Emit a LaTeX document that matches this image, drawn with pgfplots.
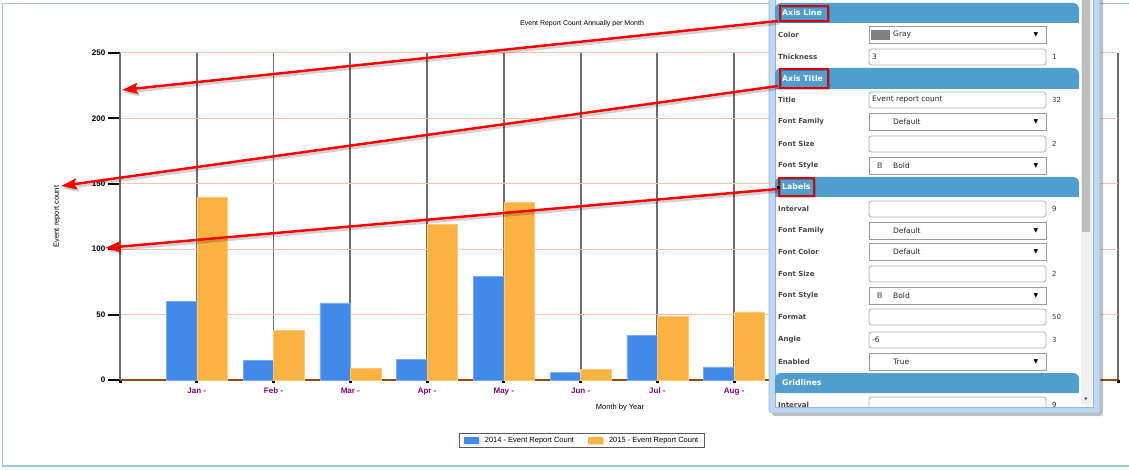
\documentclass[border=0pt]{standalone}
\usepackage{fontspec}
\setmainfont{Liberation Sans}
\newfontfamily\panelfont{DejaVu Sans}
\usepackage{pgfplots}
\pgfplotsset{compat=1.18}
\usetikzlibrary{arrows.meta,shadows}

\definecolor{barblue}{RGB}{65,138,234}
\definecolor{barorange}{RGB}{250,178,64}
\definecolor{gridsalmon}{RGB}{255,192,172}
\definecolor{vgray}{RGB}{108,108,108}
\definecolor{axbrown}{RGB}{150,72,22}
\definecolor{lblpurple}{RGB}{128,0,128}
\definecolor{framecol}{RGB}{160,196,218}
\definecolor{hdr}{RGB}{79,158,206}
\definecolor{panelrim}{RGB}{190,216,244}
\definecolor{panelline}{RGB}{150,182,214}
\definecolor{boxline}{RGB}{170,170,170}
\definecolor{lbltext}{RGB}{70,70,70}

\pgfplotstableread{
x y2014 y2015
1 60 140
2 15 38
3 59 9
4 16 119
5 79 136
6 6 8
7 34 49
8 10 52
}\events

\newcommand{\rowlabel}[2]{\node[anchor=west,inner sep=0pt,text=lbltext,font=\panelfont\bfseries\fontsize{7}{8}\selectfont] at (778,#1) {#2};}
\newcommand{\rightnum}[2]{\node[anchor=west,inner sep=0pt,text=black!80,font=\panelfont\fontsize{7}{8}\selectfont] at (1052,#1) {#2};}
\newcommand{\tbox}[2]{%
  \draw[boxline,line width=0.8pt,fill=white,rounded corners=2.5pt] (869,#1-8) rectangle (1046,#1+8);
  \node[anchor=west,inner sep=0pt,font=\panelfont\fontsize{7.5}{8}\selectfont,text=black!85] at (872,#1) {#2};}
\newcommand{\dbox}[2]{%
  \draw[black!40,line width=0.8pt,fill=white] (869,#1-8.5) rectangle (1046,#1+8.5);
  \node[anchor=west,inner sep=0pt,font=\panelfont\fontsize{7.5}{8}\selectfont,text=black!85] at (893,#1) {#2};
  \node[inner sep=0pt,font=\panelfont\fontsize{6}{6}\selectfont] at (1036,#1) {▼};}
\newcommand{\header}[3]{%
  \fill[hdr,rounded corners=6pt] (775,#1) rectangle (1079,#2);
  \fill[hdr] (775,#1/2+#2/2) rectangle (1079,#2);
  \node[anchor=west,inner sep=0pt,text=white,font=\panelfont\bfseries\fontsize{7.8}{8}\selectfont] at (782,#1/2+#2/2) {#3};}

\begin{document}
\begin{tikzpicture}
\begin{scope}[x=1pt,y=-1pt]
  \fill[white] (0,0) rectangle (1129,470);
  \draw[framecol,line width=1.2pt] (1135,3.5) -- (2.5,3.5) -- (2.5,466) -- (1135,466);
\end{scope}

\begin{axis}[
  at={(120pt,-380pt)}, anchor=south west,
  scale only axis, width=998pt, height=327pt,
  xmin=0, xmax=13, ymin=0, ymax=250,
  axis x line*=bottom, axis y line*=left,
  x axis line style={axbrown,line width=2pt},
  y axis line style={vgray,line width=2pt},
  xtick={0,...,13},
  xticklabels={,Jan -,Feb -,Mar -,Apr -,May -,Jun -,Jul -,Aug -,Sep -,Oct -,Nov -,Dec -,},
  ytick={0,50,...,250},
  tick align=outside,
  xtick style={black,line width=3pt,/pgfplots/major tick length=3pt},
  ytick style={black,line width=2pt,/pgfplots/major tick length=12pt},
  xmajorgrids, ymajorgrids,
  x grid style={vgray,line width=1.8pt},
  y grid style={gridsalmon,line width=1pt},
  /pgf/number format/assume math mode=true,
  xticklabel style={text=lblpurple,font=\bfseries\fontsize{8}{9}\selectfont},
  yticklabel style={font=\bfseries\fontsize{8}{9}\selectfont,xshift=-7pt},
  title={Event Report Count Annually per Month},
  every axis title/.style={font=\fontsize{7}{8}\selectfont,at={(axis description cs:0.463,1.089)},anchor=center},
  xlabel={Month by Year},
  every axis x label/.style={at={(axis description cs:0.501,-0.0856)},anchor=center,font=\fontsize{7.5}{8}\selectfont},
  ylabel={Event report count},
  every axis y label/.style={at={(axis description cs:-0.0631,0.5)},rotate=90,anchor=center,font=\fontsize{7.5}{8}\selectfont},
  ybar=0pt, bar width=30.5pt,
  legend style={at={(axis description cs:0.463,-0.185)},anchor=center,
    draw=black!65,line width=1.2pt,fill=white,
    drop shadow={shadow xshift=1pt,shadow yshift=-1pt,opacity=0.2},
    font=\fontsize{7.5}{8}\selectfont,inner xsep=4pt,inner ysep=1.5pt,
    legend columns=2,/tikz/every even column/.append style={column sep=12pt}},
  legend image code/.code={\fill[#1,draw=none] (0pt,-3.5pt) rectangle (15pt,3.5pt);\path[draw=none,fill=none] (0pt,0pt) -- (19pt,0pt);},
]
\addplot[fill=barblue,draw=barblue!70!white,line width=0.5pt] table[x=x,y=y2014] {\events};
\addplot[fill=barorange,draw=barorange!70!white,line width=0.5pt] table[x=x,y=y2015] {\events};
\legend{2014 - Event Report Count,2015 - Event Report Count}
\end{axis}

\begin{scope}[x=1pt,y=-1pt]
  % settings panel
  \fill[black,opacity=0.25,rounded corners=3pt] (772,-5) rectangle (1103,416);
  \fill[panelrim,rounded corners=3pt] (769,-5) rectangle (1100,413);
  \draw[panelline,line width=0.6pt,rounded corners=3pt] (769,-5) rectangle (1100,413);
  \fill[white] (775,-5) rectangle (1093,407);
  \draw[panelline,line width=0.5pt] (775,-5) rectangle (1093,407);
  \fill[black!6] (1081,-5) rectangle (1092,405);
  \fill[black!25] (1082,-5) rectangle (1090,232);
  \node[inner sep=0pt,font=\panelfont\fontsize{4}{4}\selectfont,text=black!70] at (1086,399) {▼};

  \header{3}{23}{Axis Line}
  \rowlabel{35}{Color}
  \dbox{35}{Gray}
  \fill[black!50] (871,30) rectangle (890,40);
  \rowlabel{57}{Thickness}
  \tbox{57}{3} \rightnum{57}{1}

  \header{68}{89}{Axis Title}
  \rowlabel{100}{Title}
  \tbox{100}{Event report count} \rightnum{100}{32}
  \rowlabel{122}{Font Family}
  \dbox{122}{Default}
  \rowlabel{144}{Font Size}
  \tbox{144}{} \rightnum{144}{2}
  \rowlabel{166}{Font Style}
  \dbox{166}{Bold}
  \node[inner sep=0pt,text=black!45,font=\panelfont\bfseries\fontsize{8}{8}\selectfont] at (880,166) {B};

  \header{177}{197}{Labels}
  \rowlabel{209}{Interval}
  \tbox{209}{} \rightnum{209}{9}
  \rowlabel{231}{Font Family}
  \dbox{231}{Default}
  \rowlabel{252}{Font Color}
  \dbox{252}{Default}
  \rowlabel{274}{Font Size}
  \tbox{274}{} \rightnum{274}{2}
  \rowlabel{296}{Font Style}
  \dbox{296}{Bold}
  \node[inner sep=0pt,text=black!45,font=\panelfont\bfseries\fontsize{8}{8}\selectfont] at (880,296) {B};
  \rowlabel{317}{Format}
  \tbox{317}{} \rightnum{317}{50}
  \rowlabel{340}{Angle}
  \tbox{340}{-6} \rightnum{340}{3}
  \rowlabel{362}{Enabled}
  \dbox{362}{True}

  \header{373}{393}{Gridlines}
  \begin{scope}
    \clip (775,393) rectangle (1080,406);
    \rowlabel{405}{Interval}
    \tbox{405}{} \rightnum{405}{9}
  \end{scope}

  % red highlight boxes
  \foreach \a/\b/\c/\d in {780/6/828/21, 780/69/828/88, 779/178/814/196}{
    \draw[black,opacity=0.2,line width=1.5pt] (\a+1,\b+1.5) rectangle (\c+1,\d+1.5);
    \draw[red!85!black,line width=1.5pt] (\a,\b) rectangle (\c,\d);
  }

  % red arrows
  \foreach \sx/\sy/\tx/\ty in {778/21/122/90, 778/86/61/186, 778/189/105/248}{
    \draw[black,opacity=0.18,line width=2.5pt,-{Stealth[length=16pt,width=11pt,inset=3pt]}] (\sx+1.5,\sy+2.5) -- (\tx+1.5,\ty+2.5);
    \draw[red,line width=2.5pt,-{Stealth[length=16pt,width=11pt,inset=3pt]}] (\sx,\sy) -- (\tx,\ty);
  }
  \fill[black] (776.5,186.5) rectangle (779.5,189.5);
\end{scope}

\pgfresetboundingbox
\begin{scope}[x=1pt,y=-1pt]
  \path[use as bounding box] (0,0) rectangle (1129,470);
\end{scope}
\end{tikzpicture}
\end{document}
